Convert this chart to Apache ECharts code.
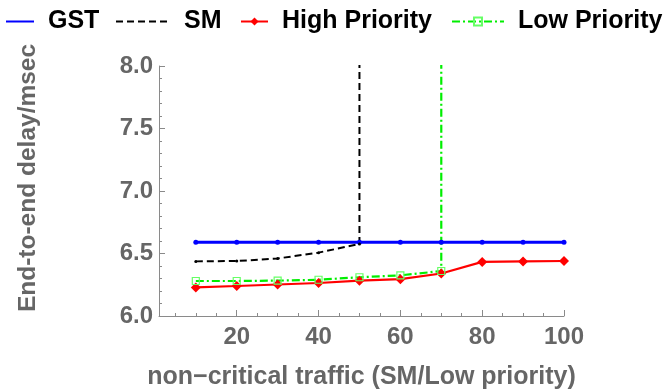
<!DOCTYPE html>
<html><head><meta charset="utf-8">
<script src="https://cdn.jsdelivr.net/npm/echarts@6/dist/echarts.min.js"></script>
<style>html,body{margin:0;padding:0;background:#fff}#c{width:663px;height:391px}</style>
</head><body><div id="c"></div>
<script>
const xValues = [10, 20, 30, 40, 50, 60, 70, 80, 90, 100];
const gst = [6.59, 6.59, 6.59, 6.59, 6.59, 6.59, 6.59, 6.59, 6.59, 6.59];
const smX = [10, 20, 30, 40, 50, 50];
const sm = [6.437, 6.44, 6.46, 6.507, 6.576, 9];
const high = [6.229, 6.24, 6.252, 6.264, 6.283, 6.295, 6.34, 6.433, 6.437, 6.44];
const lowX = [10, 20, 30, 40, 50, 60, 70, 70];
const low = [6.28, 6.28, 6.283, 6.29, 6.31, 6.325, 6.36, 9];
const xLabels = [20, 40, 60, 80, 100];
const xMinorTicks = [5, 10, 15, 25, 30, 35, 45, 50, 55, 65, 70, 75, 85, 90, 95];

const pair = (xs, ys) => xs.map((x, i) => [x, ys[i]]);
const font = 'Liberation Sans, Arial, sans-serif';
const gray = '#666666';
const axisGray = '#8a8a8a';

const chart = echarts.init(document.getElementById('c'));
const legendText = {color: '#000', fontSize: 25, fontWeight: 'bold', fontFamily: font, padding: [0, 0, 0, 9]};
function lg(name, left, w, hideDot) {
  const o = {data: [name], left: left, top: 9, itemWidth: w, itemHeight: 10, textStyle: legendText, padding: 0};
  if (hideDot) o.itemStyle = {opacity: 0};
  return o;
}
chart.setOption({
  animation: false,
  legend: [lg('GST', 5, 28, true), lg('SM', 115, 54, true), lg('High Priority', 240, 27), lg('Low Priority', 451, 52)],
  grid: {left: 159, right: 99, top: 66, bottom: 75, containLabel: false, outerBoundsMode: 'none'},
  xAxis: [{
    type: 'value', min: 1, max: 100,
    name: 'non\u2212critical traffic (SM/Low priority)', nameLocation: 'middle', nameGap: 49,
    nameTextStyle: {color: gray, fontSize: 25, fontWeight: 'bold', fontFamily: font},
    axisLine: {lineStyle: {color: axisGray, width: 1}},
    axisTick: {inside: true, length: 6, lineStyle: {color: axisGray}, customValues: xLabels},
    axisLabel: {color: gray, fontSize: 24, fontWeight: 'bold', fontFamily: font, margin: 9, customValues: xLabels},
    splitLine: {show: false}
  }, {
    type: 'value', min: 1, max: 100, position: 'bottom',
    axisLine: {show: false},
    axisTick: {inside: true, length: 3, lineStyle: {color: axisGray}, customValues: xMinorTicks},
    axisLabel: {show: false},
    splitLine: {show: false}
  }],
  yAxis: {
    type: 'value', min: 6, max: 8, interval: 0.5,
    name: 'End-to-end delay/msec', nameLocation: 'middle', nameGap: 118,
    nameTextStyle: {color: gray, fontSize: 24.5, fontWeight: 'bold', fontFamily: font, padding: [0, 0, 0, 26]},
    axisLine: {show: true, lineStyle: {color: axisGray, width: 1}},
    axisTick: {show: true, inside: true, length: 6, lineStyle: {color: axisGray}},
    minorTick: {show: true, splitNumber: 5, length: 3, lineStyle: {color: axisGray}},
    axisLabel: {color: gray, fontSize: 24, fontWeight: 'bold', fontFamily: font, margin: 6,
      formatter: v => v.toFixed(1)},
    splitLine: {show: false}
  },
  series: [
    {name: 'GST', type: 'line', data: pair(xValues, gst), clip: true,
     symbol: 'circle', symbolSize: 5, itemStyle: {color: '#0000ff'},
     lineStyle: {color: '#0000ff', width: 3}},
    {name: 'SM', type: 'line', data: pair(smX, sm), clip: true,
     symbol: 'circle', symbolSize: 3, itemStyle: {color: '#000'},
     lineStyle: {color: '#000', width: 2, type: [7, 4]}},
    {name: 'High Priority', type: 'line', data: pair(xValues, high), clip: true,
     symbol: 'diamond', symbolSize: 10, itemStyle: {color: '#ff0000'},
     lineStyle: {color: '#ff0000', width: 2.2}},
    {name: 'Low Priority', type: 'line', data: pair(lowX, low), clip: true,
     symbol: 'rect', symbolSize: 7, itemStyle: {color: 'rgba(255,255,255,0)', borderColor: '#66ff66', borderWidth: 1.2},
     lineStyle: {color: '#00ee00', width: 2.2, type: [8, 3, 2, 3]}}
  ]
});
</script></body></html>
